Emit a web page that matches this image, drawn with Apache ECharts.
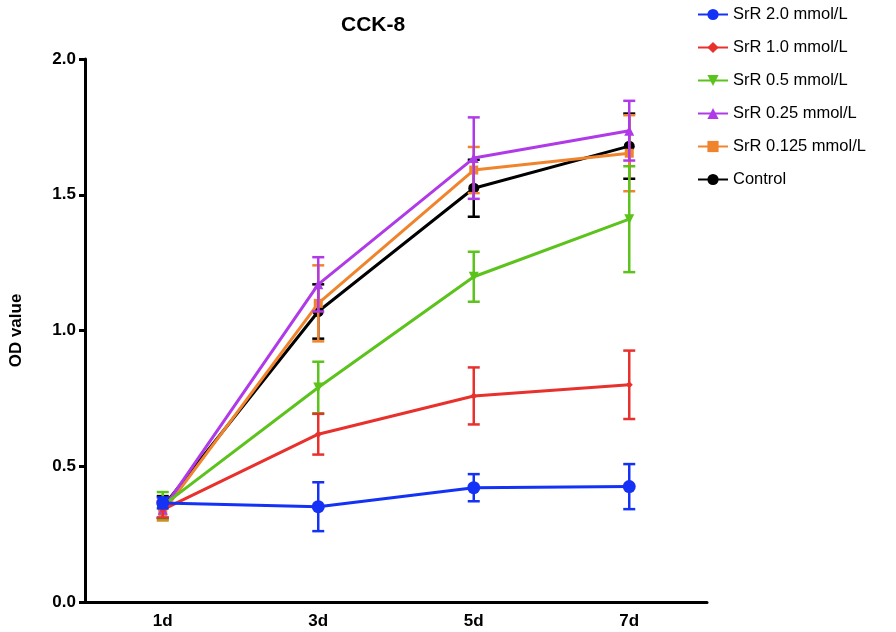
<!DOCTYPE html>
<html>
<head>
<meta charset="utf-8">
<script src="https://cdn.jsdelivr.net/npm/echarts@6/dist/echarts.min.js"></script>
<style>html,body{margin:0;padding:0;background:#fff;}#chart{width:896px;height:632px;}</style>
</head>
<body>
<div id="chart"></div>
<script>
var categories = ['1d', '3d', '5d', '7d'];
var yTicks = [0, 0.5, 1.0, 1.5, 2.0];
var seriesNames = ['SrR 2.0 mmol/L', 'SrR 1.0 mmol/L', 'SrR 0.5 mmol/L', 'SrR 0.25 mmol/L', 'SrR 0.125 mmol/L', 'Control'];
var sr20 = [0.365, 0.351, 0.421, 0.425];
var sr20Err = [0.02, 0.09, 0.05, 0.083];
var sr10 = [0.34, 0.618, 0.759, 0.80];
var sr10Err = [0.03, 0.075, 0.105, 0.126];
var sr05 = [0.355, 0.79, 1.198, 1.41];
var sr05Err = [0.05, 0.095, 0.092, 0.195];
var sr025 = [0.34, 1.17, 1.635, 1.736];
var sr025Err = [0.03, 0.10, 0.15, 0.11];
var sr0125 = [0.33, 1.10, 1.591, 1.653];
var sr0125Err = [0.03, 0.14, 0.085, 0.14];
var control = [0.35, 1.07, 1.524, 1.679];
var controlErr = [0.04, 0.10, 0.105, 0.12];

var values = [sr20, sr10, sr05, sr025, sr0125, control];
var errors = [sr20Err, sr10Err, sr05Err, sr025Err, sr0125Err, controlErr];
var colors = ['#1432f5', '#e8302d', '#5cc21c', '#b03ae8', '#f0842c', '#000000'];
var symbols = ['circle', 'diamond', 'path://M0,0 L10,0 L5,9 Z', 'triangle', 'rect', 'circle'];
var symbolSizes = [13, 7, 10, 10, 9, 11];
var zs = [12, 11, 10, 9, 8, 7];

var FONT = '"Liberation Sans", Arial, sans-serif';

var series = [];
for (var i = 0; i < values.length; i++) {
  (function (i) {
    var errData = values[i].map(function (v, k) { return [k, v, errors[i][k]]; });
    series.push({
      type: 'custom',
      name: seriesNames[i] + ' err',
      z: zs[i],
      silent: true,
      data: errData,
      renderItem: function (params, api) {
        var x = api.value(0), v = api.value(1), e = api.value(2);
        var top = api.coord([x, v + e]);
        var bot = api.coord([x, v - e]);
        var hw = 6;
        var st = { stroke: colors[i], lineWidth: 2.5 };
        return {
          type: 'group',
          children: [
            { type: 'line', shape: { x1: top[0], y1: top[1], x2: bot[0], y2: bot[1] }, style: st },
            { type: 'line', shape: { x1: top[0] - hw, y1: top[1], x2: top[0] + hw, y2: top[1] }, style: st },
            { type: 'line', shape: { x1: bot[0] - hw, y1: bot[1], x2: bot[0] + hw, y2: bot[1] }, style: st }
          ]
        };
      }
    });
    series.push({
      type: 'line',
      name: seriesNames[i],
      z: zs[i],
      data: values[i],
      symbol: symbols[i],
      symbolSize: symbolSizes[i],
      showAllSymbol: true,
      lineStyle: { color: colors[i], width: 3 },
      itemStyle: { color: colors[i] },
      emphasis: { disabled: true }
    });
  })(i);
}

var chart = echarts.init(document.getElementById('chart'));
chart.setOption({
  animation: false,
  backgroundColor: '#ffffff',
  title: {
    text: 'CCK-8',
    left: 336,
    top: 10,
    textStyle: { fontFamily: FONT, fontSize: 21, fontWeight: 'bold', color: '#000' }
  },
  legend: {
    data: seriesNames,
    orient: 'vertical',
    left: 692,
    top: 1,
    itemWidth: 30,
    itemHeight: 14,
    itemGap: 16,
    textStyle: { fontFamily: FONT, fontSize: 16.5, color: '#000', lineHeight: 16 }
  },
  grid: { left: 79, right: 189, top: 59, bottom: 30, containLabel: false },
  xAxis: {
    type: 'category',
    data: categories,
    boundaryGap: true,
    axisLine: { lineStyle: { color: '#000', width: 3 } },
    axisTick: { alignWithLabel: true, length: 6, lineStyle: { color: '#000', width: 3 } },
    axisLabel: { fontFamily: FONT, fontSize: 17, fontWeight: 'bold', color: '#000', margin: 11 },
    splitLine: { show: false }
  },
  yAxis: {
    type: 'value',
    min: yTicks[0],
    max: yTicks[yTicks.length - 1],
    interval: 0.5,
    name: 'OD value',
    nameLocation: 'middle',
    nameGap: 60,
    nameTextStyle: { fontFamily: FONT, fontSize: 17, fontWeight: 'bold', color: '#000' },
    axisLine: { show: true, lineStyle: { color: '#000', width: 3 } },
    axisTick: { show: true, length: 6, lineStyle: { color: '#000', width: 3 } },
    axisLabel: {
      fontFamily: FONT, fontSize: 17, fontWeight: 'bold', color: '#000', margin: 9,
      formatter: function (v) { return v.toFixed(1); }
    },
    splitLine: { show: false }
  },
  series: series
});
</script>
</body>
</html>
